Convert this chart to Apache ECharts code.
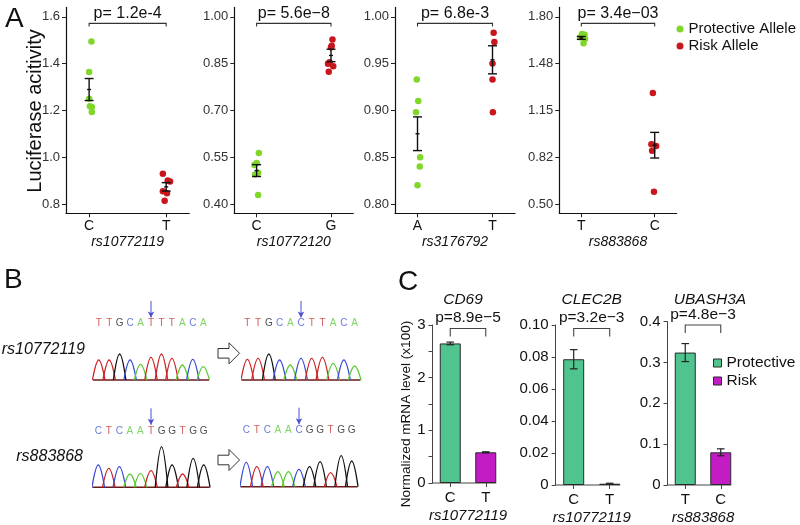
<!DOCTYPE html>
<html><head><meta charset="utf-8">
<script src="https://cdn.jsdelivr.net/npm/echarts@6/dist/echarts.min.js"></script>
<style>html,body{margin:0;padding:0;background:#fff}#c{width:800px;height:525px}</style>
</head><body><div id="c"></div>
<script>
const FONT = 'Liberation Sans, Arial, Helvetica, sans-serif';

// ---------- Panel A data ----------
const snpA = ['rs10772119', 'rs10772120', 'rs3176792', 'rs883868'];
const allelesA = [['C', 'T'], ['C', 'G'], ['A', 'T'], ['T', 'C']];
const pvalA = ['p= 1.2e-4', 'p= 5.6e\u22128', 'p= 6.8e-3', 'p= 3.4e\u221203'];
const protVals1 = [1.494, 1.364, 1.250, 1.217, 1.214, 1.193];
const protJit1 = [0.03, 0, 0, 0.01, 0.035, 0.035];
const riskVals1 = [0.929, 0.900, 0.896, 0.854, 0.846, 0.814];
const riskJit1 = [-0.043, 0.02, 0.05, -0.043, 0.01, -0.02];
const protVals2 = [0.563, 0.531, 0.525, 0.500, 0.494, 0.429];
const protJit2 = [0.03, 0, -0.03, 0.02, -0.02, 0.02];
const riskVals2 = [0.927, 0.907, 0.902, 0.854, 0.849, 0.841, 0.824];
const riskJit2 = [0.02, 0.01, 0, -0.02, -0.04, 0.03, -0.03];
const protVals3 = [0.933, 0.910, 0.898, 0.850, 0.840, 0.820];
const protJit3 = [-0.01, 0.01, -0.02, 0.035, 0.03, 0];
const riskVals3 = [0.983, 0.973, 0.950, 0.933, 0.898];
const riskJit3 = [0.015, 0.025, 0, 0, 0.005];
const protVals4 = [1.680, 1.675, 1.657, 1.646, 1.616];
const protJit4 = [0.01, 0.045, -0.015, 0.05, 0.03];
const riskVals4 = [1.270, 0.915, 0.903, 0.869, 0.585];
const riskJit4 = [-0.025, -0.045, 0.02, -0.035, -0.01];
const meanA = [[1.289, 0.873], [0.507, 0.876], [0.875, 0.954], [1.653, 0.908]];
const seA = [[0.047, 0.018], [0.019, 0.020], [0.018, 0.015], [0.010, 0.089]];
const ticksA = [[0.8, 1.0, 1.2, 1.4, 1.6], [0.40, 0.55, 0.70, 0.85, 1.00], [0.80, 0.85, 0.90, 0.95, 1.00], [0.5, 0.825, 1.15, 1.475, 1.8]];
const tickLabelsA = [['0.8', '1.0', '1.2', '1.4', '1.6'], ['0.40', '0.55', '0.70', '0.85', '1.00'], ['0.80', '0.85', '0.90', '0.95', '1.00'], ['0.50', '0.82', '1.15', '1.48', '1.80']];
const legendA = ['Protective Allele', 'Risk Allele'];

// ---------- Panel B data ----------
const seqB = ['TTGCATTTACA', 'TTGCACTTACA', 'CTCAATGGTGG', 'CTCAACGGTGG'];
const peakB = [
  [20, 20, 26, 20, 15.7, 22.7, 26, 21.7, 15, 20.7, 13.3],
  [20.7, 21.7, 26, 20, 15, 21.7, 21.7, 22.7, 16.7, 20, 14],
  [22.3, 19, 20.7, 13.3, 14, 16.7, 40.7, 22.3, 13.3, 29, 22.3],
  [24.3, 20, 20, 15, 15, 17.3, 20, 25, 14, 31, 25.7]
];
const snpIdxB = [5, 5, 5, 5];
const rowLabelsB = ['rs10772119', 'rs883868'];

// ---------- Panel C data ----------
const geneC = ['CD69', 'CLEC2B', 'UBASH3A'];
const snpC = ['rs10772119', 'rs10772119', 'rs883868'];
const allelesC = [['C', 'T'], ['C', 'T'], ['T', 'C']];
const protC = [2.65, 0.0786, 0.324];
const protSEC = [0.025, 0.006, 0.022];
const riskC = [0.583, 0.0008, 0.080];
const riskSEC = [0.010, 0.0003, 0.0085];
const pvalC = ['p=8.9e\u22125', 'p=3.2e\u22123', 'p=4.8e\u22123'];
const tickValsC = [[0, 0.5, 1, 1.5, 2, 2.5, 3], [0, 0.02, 0.04, 0.06, 0.08, 0.10], [0, 0.1, 0.2, 0.3, 0.4]];
const labelValsC = [[0, 1, 2, 3], [0, 0.02, 0.04, 0.06, 0.08, 0.10], [0, 0.1, 0.2, 0.3, 0.4]];
const tickLabelsC = [['0', '1', '2', '3'], ['0', '0.02', '0.04', '0.06', '0.08', '0.10'], ['0', '0.1', '0.2', '0.3', '0.4']];
const legendC = ['Protective', 'Risk'];
const yTitleC = 'Normalized mRNA level (x100)';

// ---------- styles / layout ----------
const GREEN_A = '#7fd72a', RED_A = '#c8161d';
const GREEN_C = '#4fc48f', MAG_C = '#c41cc4';
const BASE_COL = { T: '#cc2426', G: '#111111', C: '#3b4bd6', A: '#5ccb34' };
const LETTER_COL = { T: '#c8312f', G: '#222222', C: '#4656d2', A: '#62c83e' };
const BAR_W = 21;

const gridA = [{ left: 66, width: 123.3 }, { left: 234.3, width: 119 }, { left: 395, width: 120 }, { left: 559.3, width: 117.4 }];
const gridB = [{ left: 93.5, width: 115, top: 300 }, { left: 242, width: 118, top: 300 }, { left: 93, width: 116, top: 407.3 }, { left: 241, width: 116, top: 406.7 }];
const gridC = [{ left: 432.5, width: 71, top: 325, height: 158 }, { left: 555.7, width: 72, top: 325, height: 160 }, { left: 667.5, width: 71, top: 321.5, height: 163.5 }];

const protA = [protVals1, protVals2, protVals3, protVals4];
const protJ = [protJit1, protJit2, protJit3, protJit4];
const riskA = [riskVals1, riskVals2, riskVals3, riskVals4];
const riskJ = [riskJit1, riskJit2, riskJit3, riskJit4];

const grid = [], xAxis = [], yAxis = [], series = [];

function errRender(cap, mid, color, lw) {
  return function (params, api) {
    const x = api.value(0), m = api.value(1), s = api.value(2);
    const pm = api.coord([x, m]), lo = api.coord([x, m - s]), hi = api.coord([x, m + s]);
    const st = { stroke: color, lineWidth: lw };
    const ch = [
      { type: 'line', shape: { x1: pm[0], y1: lo[1], x2: pm[0], y2: hi[1] }, style: st },
      { type: 'line', shape: { x1: pm[0] - cap, y1: lo[1], x2: pm[0] + cap, y2: lo[1] }, style: st },
      { type: 'line', shape: { x1: pm[0] - cap, y1: hi[1], x2: pm[0] + cap, y2: hi[1] }, style: st }
    ];
    if (mid) ch.push({ type: 'line', shape: { x1: pm[0] - mid, y1: pm[1], x2: pm[0] + mid, y2: pm[1] }, style: st });
    return { type: 'group', children: ch };
  };
}
function bracketRender(text, barOff, leg, textOff, fontSize, color, baseline) {
  return function (params, api) {
    const cs = params.coordSys;
    const xa = api.coord([api.value(0), 0])[0];
    const xb = api.coord([api.value(1), 0])[0];
    const y = cs.y + barOff;
    const st = { stroke: color, lineWidth: 1.1, fill: null };
    const ch = [
      { type: 'polyline', shape: { points: [[xa, y + leg], [xa, y], [xb, y], [xb, y + leg]] }, style: st },
      { type: 'text', style: { text: text, x: (xa + xb) / 2, y: cs.y + textOff, textAlign: 'center', textVerticalAlign: 'middle', fontSize: fontSize, fontFamily: FONT, fill: '#111' } }
    ];
    if (baseline) {
      const yb = cs.y + cs.height;
      ch.push({ type: 'line', shape: { x1: cs.x, y1: yb, x2: xb + BAR_W / 2, y2: yb }, style: { stroke: '#444', lineWidth: 1 } });
    }
    return { type: 'group', children: ch };
  };
}

// ---------- Panel A ----------
for (let k = 0; k < 4; k++) {
  const t = ticksA[k];
  const step = t[1] - t[0];
  grid.push({ left: gridA[k].left, width: gridA[k].width, top: 7.4, height: 205.9, outerBoundsMode: 'none' });
  xAxis.push({
    gridIndex: k, type: 'value', min: 0.7, max: 2.3,
    axisLine: { show: true, onZero: false, lineStyle: { color: '#111', width: 1.2 } },
    axisTick: { show: true, length: 4, customValues: [1, 2], lineStyle: { color: '#222' } },
    axisLabel: { customValues: [1, 2], formatter: v => allelesA[k][Math.round(v) - 1], fontSize: 14, color: '#111', margin: 6, fontFamily: FONT },
    splitLine: { show: false },
    name: snpA[k], nameLocation: 'middle', nameGap: 22,
    nameTextStyle: { fontStyle: 'italic', fontSize: 14, color: '#111', fontFamily: FONT }
  });
  yAxis.push({
    gridIndex: k, type: 'value', min: t[0] - 0.2 * step, max: t[t.length - 1] + 0.2 * step,
    axisLine: { show: true, onZero: false, lineStyle: { color: '#111', width: 1.2 } },
    axisTick: { show: true, length: 4, customValues: t, lineStyle: { color: '#222' } },
    axisLabel: {
      customValues: t, fontSize: 13, color: '#333', margin: 6, fontFamily: FONT,
      formatter: v => { const i = t.findIndex(q => Math.abs(q - v) < 1e-9); return i >= 0 ? tickLabelsA[k][i] : ''; }
    },
    splitLine: { show: false }
  });
  series.push({
    type: 'scatter', name: legendA[0], xAxisIndex: k, yAxisIndex: k, symbolSize: 6.5,
    itemStyle: { color: GREEN_A, opacity: 1 }, z: 3,
    data: protA[k].map((v, i) => [1 + protJ[k][i], v])
  });
  series.push({
    type: 'scatter', name: legendA[1], xAxisIndex: k, yAxisIndex: k, symbolSize: 6.5,
    itemStyle: { color: RED_A, opacity: 1 }, z: 3,
    data: riskA[k].map((v, i) => [2 + riskJ[k][i], v])
  });
  series.push({
    type: 'custom', name: 'errA' + k, xAxisIndex: k, yAxisIndex: k, z: 5, silent: true,
    renderItem: errRender(4.5, 2, '#111', 1.4),
    encode: { x: 0, y: 1 },
    data: [[1, meanA[k][0], seA[k][0]], [2, meanA[k][1], seA[k][1]]]
  });
  series.push({
    type: 'custom', name: 'brA' + k, xAxisIndex: k, yAxisIndex: k, z: 5, silent: true,
    renderItem: bracketRender(pvalA[k], 16, 3, 5.8, 16, '#333', false),
    encode: { x: 0, y: 1 },
    data: [[1, 2]]
  });
}

// ---------- Panel B (chromatograms) ----------
for (let r = 0; r < 4; r++) {
  const gi = grid.length;
  grid.push({ left: gridB[r].left, width: gridB[r].width, top: gridB[r].top, height: 80, outerBoundsMode: 'none' });
  xAxis.push({ gridIndex: gi, type: 'value', min: -0.5, max: 10.5, show: false });
  yAxis.push({ gridIndex: gi, type: 'value', min: 0, max: 80, show: false });
  const seq = seqB[r].split('');
  seq.forEach((b, i) => {
    series.push({
      type: 'line', name: 'pk' + r + '_' + i, xAxisIndex: gi, yAxisIndex: gi, smooth: 0.4, symbol: 'none',
      silent: true, clip: false, lineStyle: { color: BASE_COL[b], width: 1.3 },
      data: [[i - 0.6, 0], [i, peakB[r][i]], [i + 0.6, 0]]
    });
  });
  series.push({
    type: 'line', name: 'base' + r, xAxisIndex: gi, yAxisIndex: gi, symbol: 'none', silent: true, clip: false,
    lineStyle: { color: '#6a1a1a', width: 1.4 }, z: 1,
    data: [[-0.55, 0], [10.55, 0]]
  });
  series.push({
    type: 'scatter', name: 'seq' + r, xAxisIndex: gi, yAxisIndex: gi, symbolSize: 0, silent: true,
    data: seq.map((b, i) => ({ value: [i, 56.5], name: b, label: { color: LETTER_COL[b] } })),
    label: { show: true, position: 'inside', formatter: p => p.name, fontSize: 10, fontFamily: FONT }
  });
  series.push({
    type: 'line', name: 'arr' + r, xAxisIndex: gi, yAxisIndex: gi, silent: true, clip: false,
    lineStyle: { color: '#4a4fd0', width: 1 }, itemStyle: { color: '#4a4fd0' }, showSymbol: true,
    data: [{ value: [snpIdxB[r], 79], symbol: 'none' }, { value: [snpIdxB[r], 62.5], symbol: 'arrow', symbolSize: [5, 6], symbolRotate: 180 }]
  });
}

// ---------- Panel C ----------
for (let k = 0; k < 3; k++) {
  const gi = grid.length;
  const tv = tickValsC[k];
  grid.push({ left: gridC[k].left, width: gridC[k].width, top: gridC[k].top, height: gridC[k].height, outerBoundsMode: 'none' });
  xAxis.push({
    gridIndex: gi, type: 'category', data: allelesC[k],
    axisLine: { show: false },
    axisTick: { show: true, alignWithLabel: true, length: 4, lineStyle: { color: '#444' } },
    axisLabel: { fontSize: 15, color: '#111', margin: 7, fontFamily: FONT },
    name: snpC[k], nameLocation: 'middle', nameGap: 25,
    nameTextStyle: { fontStyle: 'italic', fontSize: 15, color: '#111', fontFamily: FONT }
  });
  yAxis.push({
    gridIndex: gi, type: 'value', min: 0, max: tv[tv.length - 1],
    axisLine: { show: true, lineStyle: { color: '#444', width: 1 } },
    axisTick: { show: true, length: 4, customValues: tv, lineStyle: { color: '#444' } },
    axisLabel: {
      customValues: labelValsC[k], fontSize: 15, color: '#111', margin: 7, fontFamily: FONT,
      formatter: v => { const i = labelValsC[k].findIndex(q => Math.abs(q - v) < 1e-9); return i >= 0 ? tickLabelsC[k][i] : ''; }
    },
    splitLine: { show: false }
  });
  series.push({
    type: 'bar', name: legendC[0], xAxisIndex: gi, yAxisIndex: gi, barWidth: BAR_W, barGap: '-100%', z: 3,
    itemStyle: { color: GREEN_C, borderColor: '#2a2a2a', borderWidth: 1 },
    data: [protC[k], '-']
  });
  series.push({
    type: 'bar', name: legendC[1], xAxisIndex: gi, yAxisIndex: gi, barWidth: BAR_W, barGap: '-100%', z: 3,
    itemStyle: { color: MAG_C, borderColor: '#2a2a2a', borderWidth: 1 },
    data: ['-', riskC[k]]
  });
  series.push({
    type: 'custom', name: 'errC' + k, xAxisIndex: gi, yAxisIndex: gi, z: 5, silent: true,
    renderItem: errRender(3.8, 0, '#222', 1.2),
    encode: { x: 0, y: 1 },
    data: [[0, protC[k], protSEC[k]], [1, riskC[k], riskSEC[k]]]
  });
  series.push({
    type: 'custom', name: 'brC' + k, xAxisIndex: gi, yAxisIndex: gi, z: 2, silent: true,
    renderItem: bracketRender(pvalC[k], 3.5, 8, -7, 15.5, '#444', true),
    encode: { x: 0, y: 1 },
    data: [[0, 1]]
  });
}

// ---------- decorations ----------
const graphic = [
  { type: 'text', x: 5, y: 5, style: { text: 'A', fontSize: 28, fontFamily: FONT, fill: '#111' } },
  { type: 'text', x: 4, y: 266, style: { text: 'B', fontSize: 28, fontFamily: FONT, fill: '#111' } },
  { type: 'text', x: 398, y: 268, style: { text: 'C', fontSize: 28, fontFamily: FONT, fill: '#111' } },
  { type: 'text', x: 35, y: 111, rotation: Math.PI / 2, style: { text: 'Luciferase acitivity', fontSize: 20, fontFamily: FONT, fill: '#111', textAlign: 'center', textVerticalAlign: 'middle' } },
  { type: 'text', x: 406, y: 414, rotation: Math.PI / 2, style: { text: yTitleC, fontSize: 13.6, fontFamily: FONT, fill: '#111', textAlign: 'center', textVerticalAlign: 'middle' } },
  { type: 'text', x: 85, y: 350, style: { text: rowLabelsB[0], fontSize: 16, fontStyle: 'italic', fontFamily: FONT, fill: '#111', textAlign: 'right', textVerticalAlign: 'middle' } },
  { type: 'text', x: 83, y: 456.7, style: { text: rowLabelsB[1], fontSize: 16, fontStyle: 'italic', fontFamily: FONT, fill: '#111', textAlign: 'right', textVerticalAlign: 'middle' } },
  { type: 'polygon', shape: { points: [[218, 348.5], [229, 348.5], [229, 342.8], [239.5, 353.3], [229, 363.8], [229, 358.1], [218, 358.1]] }, style: { fill: '#fff', stroke: '#333', lineWidth: 1 } },
  { type: 'polygon', shape: { points: [[218, 455.2], [229, 455.2], [229, 449.5], [239.5, 460], [229, 470.5], [229, 464.8], [218, 464.8]] }, style: { fill: '#fff', stroke: '#333', lineWidth: 1 } }
];
const geneX = [463, 591.7, 710];
geneC.forEach((g, k) => graphic.push({ type: 'text', x: geneX[k], y: 300, style: { text: g, fontSize: 15.5, fontStyle: 'italic', fontFamily: FONT, fill: '#111', textAlign: 'center', textVerticalAlign: 'middle' } }));

const option = {
  animation: false,
  backgroundColor: '#fff',
  grid, xAxis, yAxis, series, graphic,
  legend: [
    {
      data: legendA, orient: 'vertical', left: 671.5, top: 16.5, itemWidth: 7, itemHeight: 7, itemGap: 2, icon: 'circle',
      textStyle: { fontSize: 15, color: '#111', fontFamily: FONT, lineHeight: 15 }, selectedMode: false
    },
    {
      data: legendC, orient: 'vertical', left: 708, top: 350, itemWidth: 8, itemHeight: 8, itemGap: 2, icon: 'rect',
      itemStyle: { borderColor: '#2a2a2a', borderWidth: 1 },
      textStyle: { fontSize: 15.5, color: '#111', fontFamily: FONT, lineHeight: 15 }, selectedMode: false
    }
  ]
};
const chart = echarts.init(document.getElementById('c'));
chart.setOption(option);
</script>
</body></html>
